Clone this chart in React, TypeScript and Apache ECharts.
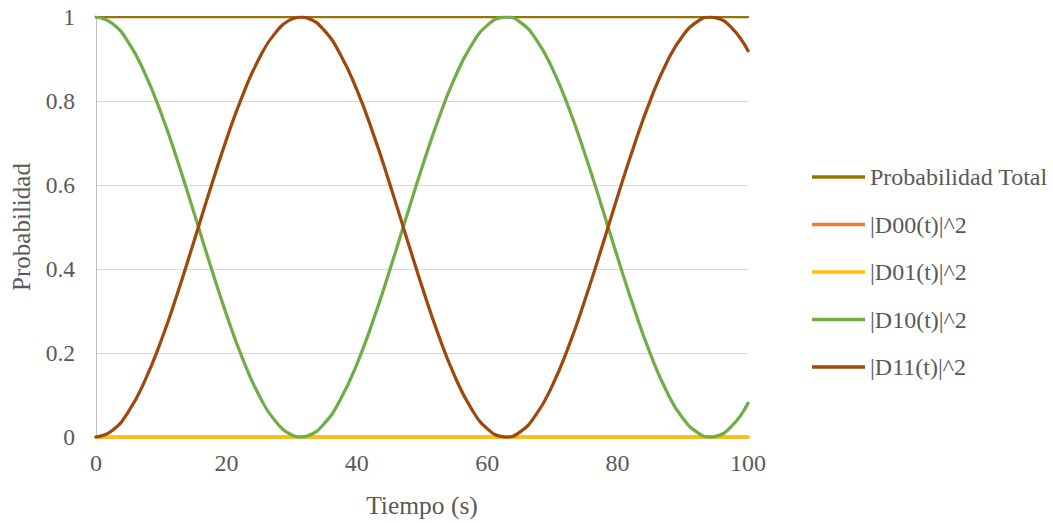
import React, { useEffect, useRef } from "react";
import * as echarts from "echarts";

const tiempo = [
  0, 2.5, 5, 7.5, 10, 12.5, 15, 17.5, 20, 22.5, 25, 27.5, 30, 31.4, 32.5, 35, 37.5, 40, 42.5, 45, 47.5,
  50, 52.5, 55, 57.5, 60, 62.5, 62.8, 65, 67.5, 70, 72.5, 75, 77.5, 80, 82.5, 85, 87.5, 90, 92.5, 94.2, 95,
  97.5, 100,
];
const d10 = [
  1.0, 0.9845, 0.9388, 0.8658, 0.7702, 0.6577, 0.5354, 0.4109, 0.2919, 0.1859, 0.0994, 0.0379, 0.005, 0.0,
  0.0029, 0.0318, 0.0897, 0.1732, 0.277, 0.3946, 0.5188, 0.6418, 0.756, 0.8543, 0.9306, 0.9801, 0.9997, 1.0,
  0.9883, 0.9467, 0.877, 0.784, 0.6733, 0.5525, 0.4273, 0.3075, 0.199, 0.1094, 0.0444, 0.0079, 0.0, 0.0014,
  0.0258, 0.0805,
];
const d11 = [
  0.0, 0.0155, 0.0612, 0.1342, 0.2298, 0.3423, 0.4646, 0.5891, 0.7081, 0.8141, 0.9006, 0.9621, 0.995, 1.0,
  0.9971, 0.9682, 0.9103, 0.8268, 0.723, 0.6054, 0.4812, 0.3582, 0.244, 0.1457, 0.0694, 0.0199, 0.0003, 0.0,
  0.0117, 0.0533, 0.123, 0.216, 0.3267, 0.4475, 0.5727, 0.6925, 0.801, 0.8906, 0.9556, 0.9921, 1.0, 0.9986,
  0.9742, 0.9195,
];
const total = [1, 1];
const d00 = [0, 0];
const d01 = [0, 0];
const totalX = [0, 100];

const seriesNames = ["Probabilidad Total", "|D00(t)|^2", "|D01(t)|^2", "|D10(t)|^2", "|D11(t)|^2"];
const colors = ["#997300", "#ED7D31", "#FFC000", "#70AD47", "#9E480E"];

const pairs = (xs: number[], ys: number[]) => xs.map((x, i) => [x, ys[i]]);

export default function App() {
  const ref = useRef<HTMLDivElement>(null);
  useEffect(() => {
    const chart = echarts.init(ref.current!, null, { renderer: "svg" });
    const font = "Liberation Serif";
    const dataSets = [
      pairs(totalX, total),
      pairs(totalX, d00),
      pairs(totalX, d01),
      pairs(tiempo, d10),
      pairs(tiempo, d11),
    ];
    chart.setOption({
      animation: false,
      color: colors,
      textStyle: { fontFamily: font },
      grid: { left: 96, top: 17, width: 652, height: 420, containLabel: false },
      legend: {
        orient: "vertical",
        left: 807,
        top: 160,
        itemWidth: 53,
        itemHeight: 3.5,
        itemGap: 23.5,
        icon: "rect",
        data: seriesNames.map((n, i) => ({
          name: n,
          itemStyle: { color: colors[i] },
        })),
        textStyle: { fontFamily: font, fontSize: 24, lineHeight: 24, color: "#595959" },
      },
      xAxis: {
        type: "value",
        min: 0,
        max: 100,
        interval: 20,
        name: "Tiempo (s)",
        nameLocation: "middle",
        nameGap: 55,
        nameTextStyle: { fontFamily: font, fontSize: 25.5, color: "#595959" },
        axisLine: { show: true, lineStyle: { color: "#BFBFBF", width: 1 } },
        axisTick: { show: false },
        axisLabel: { fontFamily: font, fontSize: 24, color: "#595959", margin: 14 },
        splitLine: { show: false },
      },
      yAxis: {
        type: "value",
        min: 0,
        max: 1,
        interval: 0.2,
        name: "Probabilidad",
        nameLocation: "middle",
        nameGap: 62,
        nameTextStyle: { fontFamily: font, fontSize: 25, color: "#595959" },
        axisLine: { show: true, lineStyle: { color: "#BFBFBF", width: 1 } },
        axisTick: { show: false },
        axisLabel: { fontFamily: font, fontSize: 23.5, color: "#595959", margin: 21 },
        splitLine: { show: true, lineStyle: { color: "#D9D9D9", width: 1 } },
      },
      series: seriesNames.map((n, i) => ({
        name: n,
        type: "line",
        data: dataSets[i],
        smooth: i >= 3 ? 0.5 : false,
        symbol: "none",
        lineStyle: { color: colors[i], width: i === 0 ? 2.25 : 3.25, cap: "round" },
        itemStyle: { color: colors[i] },
      })),
    });
    return () => chart.dispose();
  }, []);
  return (
    <div
      ref={ref}
      style={{ position: "absolute", left: 0, top: 0, width: 1053, height: 523 }}
    />
  );
}
